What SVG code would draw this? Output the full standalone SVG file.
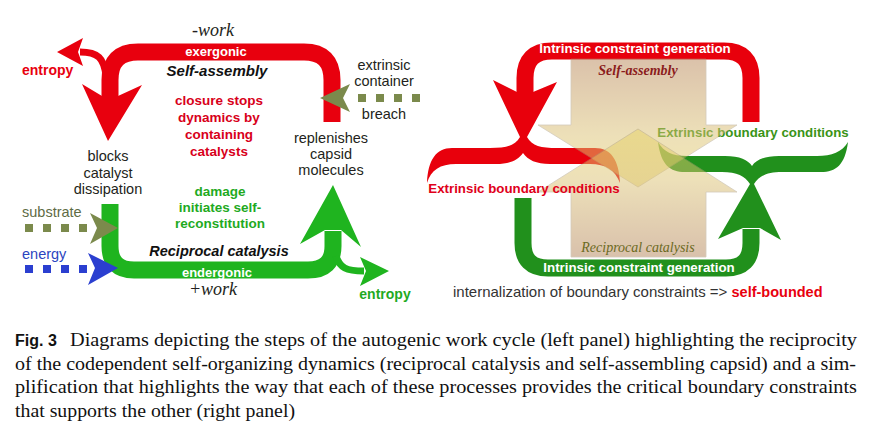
<svg xmlns="http://www.w3.org/2000/svg" width="880" height="436" viewBox="0 0 880 436">
<style>
.sans{font-family:"Liberation Sans",Arial,sans-serif}
.serif{font-family:"Liberation Serif","Times New Roman",serif}
.lbl{font-family:"Liberation Sans",Arial,sans-serif;font-size:14.5px;fill:#231f20;text-anchor:middle}
.bold{font-weight:bold}
.mid{text-anchor:middle}
.redS{fill:none;stroke:#e8000e;stroke-width:17}
.grnS{fill:none;stroke:#1fb41f;stroke-width:17}
.red{fill:#e8000e}
.grn{fill:#1fb41f}
.olive{fill:#7b8a4c}
.blue{fill:#2b3fd0}
.tan{stroke:#a8987a;stroke-width:0.8;opacity:0.5}
.cap{font-family:"Liberation Serif","Times New Roman",serif;font-size:18px;fill:#111}
</style>
<defs>
<linearGradient id="tanDown" x1="0" y1="59" x2="0" y2="187" gradientUnits="userSpaceOnUse">
<stop offset="0" stop-color="#b88658"/>
<stop offset="0.6" stop-color="#dcc274"/>
<stop offset="1" stop-color="#e8d464"/>
</linearGradient>
<linearGradient id="tanUp" x1="0" y1="257" x2="0" y2="129" gradientUnits="userSpaceOnUse">
<stop offset="0" stop-color="#b4845a"/>
<stop offset="0.6" stop-color="#dcc274"/>
<stop offset="1" stop-color="#e8d464"/>
</linearGradient>
</defs>

<g id="connectors">
<!-- left panel red self-assembly loop -->
<path class="redS" d="M332 122 L332 80 Q332 52 304 52 L138 52 Q110 52 110 80 L110 97"/>
<path class="red" d="M102 96 L82 84 L108 141 L142 85 L118 96 Z"/>
<path fill="none" stroke="#e8000e" stroke-width="7" d="M106 76 C104 58 98 52 80 52"/>
<path class="red" d="M57 52 L83 38 L78 52 L83 66 Z"/>
<!-- left panel green reciprocal catalysis loop -->
<path class="grnS" d="M110 204 L110 246 Q110 270 134 270 L308 270 Q333 270 333 246 L333 231"/>
<path class="grn" d="M325 230 L300 244 L333 185 L361 247 L341 230 Z"/>
<path fill="none" stroke="#1fb41f" stroke-width="7" d="M336 256 C340 268 346 271 364 271"/>
<path class="grn" d="M389 271 L360 257 L366 271 L360 286 Z"/>
<!-- substrate -->
<g class="olive"><rect x="25" y="224" width="8" height="8"/><rect x="43" y="224" width="8" height="8"/><rect x="61" y="224" width="8" height="8"/><rect x="79" y="224" width="8" height="8"/>
<path d="M90 213 L118 228 L90 244 L97 228 Z"/></g>
<!-- energy -->
<g class="blue"><rect x="25" y="265" width="8" height="8"/><rect x="43" y="265" width="8" height="8"/><rect x="61" y="265" width="8" height="8"/><rect x="79" y="265" width="8" height="8"/>
<path d="M88 253 L118 268 L88 285 L95 268 Z"/></g>
<!-- breach -->
<g class="olive"><rect x="358" y="94" width="8" height="8"/><rect x="376" y="94" width="8" height="8"/><rect x="394" y="94" width="8" height="8"/><rect x="412" y="94" width="8" height="8"/>
<path d="M350 84 L320 98 L350 112 L343 98 Z"/></g>

<!-- right panel red loop -->
<path fill="none" stroke="#e8000c" stroke-width="17" d="M751 122 L751 78 Q751 51 724 51 L552 51 Q525 51 525 78 L525 94"/>
<path fill="#e8000c" d="M517 92 L493 80 L520 137 C515 146 506 148 490 148 L452 148 C436 148 428 160 427 183 C431 170 440 164 456 164 L496 164 C510 164 518 160 523 153 C528 160 536 164 550 164 L590 164 C606 164 615 170 620 183 C619 160 611 148 595 148 L557 148 C541 148 532 146 527 137 L557 82 L533 92 Z"/>
<!-- right panel green loop -->
<path fill="none" stroke="#21901c" stroke-width="17" d="M523 198 L523 243 Q523 268 548 268 L726 268 Q751 268 751 243 L751 229"/>
<path fill="#21901c" d="M743 228 L718 239 L750 184 C745 176 737 172 722 172 L685 172 C670 172 661 165 658 142 C664 152 672 156 687 156 L725 156 C740 156 748 160 752 166 C756 160 764 156 779 156 L817 156 C832 156 842 152 848 142 C845 165 836 172 821 172 L782 172 C767 172 759 176 754 184 L781 240 L760 228 Z"/>
</g>

<g id="green-extrinsic-label">
<text class="sans bold" x="753" y="137" font-size="13.3" fill="#3a9418" text-anchor="middle">Extrinsic boundary conditions</text>
</g>

<g id="tan-arrows">
<path class="tan" fill="url(#tanDown)" d="M571 59 L706 59 L706 125 L737 125 L638 187 L538 125 L571 125 Z"/>
<path class="tan" fill="url(#tanUp)" d="M571 257 L706 257 L706 192 L737 192 L638 129 L538 192 L571 192 Z"/>
</g>

<!-- left panel labels -->
<g id="self-assembly">
<text class="serif mid" x="213" y="36" font-size="18" font-style="italic" fill="#231f20">-work</text>
<text class="sans bold mid" x="216" y="56" font-size="13" fill="#fff">exergonic</text>
<text class="sans bold mid" x="217" y="76" font-size="15" font-style="italic" fill="#111">Self-assembly</text>
</g>
<g id="closure-note">
<text class="sans bold mid" font-size="13.5" fill="#d8001a"><tspan x="219" y="105">closure stops</tspan><tspan x="219" y="122">dynamics by</tspan><tspan x="219" y="139">containing</tspan><tspan x="219" y="156">catalysts</tspan></text>
</g>
<g id="entropy-red"><text class="sans bold" x="22" y="75" font-size="14" fill="#e8000e">entropy</text></g>
<g id="breach-label">
<text class="lbl"><tspan x="384" y="70">extrinsic</tspan><tspan x="384" y="86">container</tspan><tspan x="384" y="119">breach</tspan></text>
</g>
<g id="replenishes"><text class="lbl"><tspan x="331" y="143">replenishes</tspan><tspan x="331" y="159">capsid</tspan><tspan x="331" y="175">molecules</tspan></text></g>
<g id="blocks"><text class="lbl"><tspan x="108" y="161">blocks</tspan><tspan x="108" y="178">catalyst</tspan><tspan x="108" y="194">dissipation</tspan></text></g>
<g id="damage-note">
<text class="sans bold mid" font-size="13.5" fill="#1faa1f"><tspan x="220" y="196">damage</tspan><tspan x="220" y="212">initiates self-</tspan><tspan x="220" y="228">reconstitution</tspan></text>
</g>
<g id="substrate"><text class="sans" x="22" y="217" font-size="14.5" fill="#5e6b45">substrate</text></g>
<g id="energy"><text class="sans" x="22" y="259" font-size="14.5" fill="#2b45c0">energy</text></g>
<g id="reciprocal-catalysis">
<text class="sans bold mid" x="219" y="256" font-size="14.5" font-style="italic" fill="#111">Reciprocal catalysis</text>
<text class="sans bold mid" x="217" y="277" font-size="13" fill="#fff">endergonic</text>
<text class="serif mid" x="213" y="295" font-size="18" font-style="italic" fill="#231f20">+work</text>
</g>
<g id="entropy-green"><text class="sans bold mid" x="385" y="299" font-size="14" fill="#1faa1f">entropy</text></g>

<!-- right panel labels -->
<g id="right-self-assembly">
<text class="sans bold mid" x="635" y="53" font-size="13.3" fill="#fff">Intrinsic constraint generation</text>
<text class="serif bold mid" x="638" y="75" font-size="14" font-style="italic" fill="#8b1c1c">Self-assembly</text>
</g>
<g id="red-extrinsic-label"><text class="sans bold mid" x="524" y="193" font-size="13.3" fill="#e0001a">Extrinsic boundary conditions</text></g>
<g id="right-reciprocal">
<text class="serif mid" x="638" y="252" font-size="14" font-style="italic" fill="#6b6a1f">Reciprocal catalysis</text>
<text class="sans bold mid" x="639" y="272" font-size="13.3" fill="#fff">Intrinsic constraint generation</text>
</g>
<g id="internalization">
<text class="sans" x="453" y="297" font-size="15" fill="#333">internalization of boundary constraints =&gt; <tspan font-weight="bold" fill="#e8000e" font-size="14.5">self-bounded</tspan></text>
</g>

<!-- caption -->
<g id="caption">
<text class="sans bold" x="15" y="346" font-size="16" fill="#111">Fig. 3</text>
<text class="cap" x="70" y="346" textLength="787" lengthAdjust="spacingAndGlyphs">Diagrams depicting the steps of the autogenic work cycle (left panel) highlighting the reciprocity</text>
<text class="cap" x="15" y="370" textLength="841" lengthAdjust="spacingAndGlyphs">of the codependent self-organizing dynamics (reciprocal catalysis and self-assembling capsid) and a sim-</text>
<text class="cap" x="15" y="393" textLength="842" lengthAdjust="spacingAndGlyphs">plification that highlights the way that each of these processes provides the critical boundary constraints</text>
<text class="cap" x="15" y="417" textLength="280" lengthAdjust="spacingAndGlyphs">that supports the other (right panel)</text>
</g>
</svg>
